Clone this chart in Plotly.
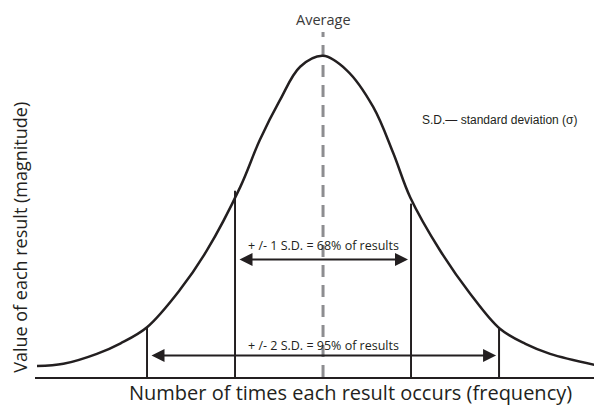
import plotly.graph_objects as go

# Bell curve (x in standard deviations from the mean, y relative frequency, peak = 1)
curve_x = [-3.25, -2.95, -2.57, -2.30, -2.00, -1.63, -1.32, -0.94, -0.72, -0.49, -0.26, 0.0,
           0.27, 0.57, 0.80, 0.99, 1.33, 1.67, 2.01, 2.30, 2.58, 3.15]
curve_y = [0.034, 0.041, 0.072, 0.105, 0.155, 0.270, 0.394, 0.592, 0.737, 0.862, 0.966, 1.0,
           0.955, 0.841, 0.696, 0.560, 0.394, 0.260, 0.150, 0.103, 0.072, 0.034]

# Vertical markers at +/- 1 and 2 standard deviations, with the curve height where they stop
sd_pos = [-2, -1, 1, 2]
sd_top = [0.154, 0.58, 0.54, 0.151]

# Average line
mean_x = 0
mean_top = 1.074

# Range arrows: (half width in S.D., height, label)
arrow_sd = [1, 2]
arrow_y = [0.366, 0.067]
arrow_labels = ["+ /- 1 S.D. = 68% of results", "+ /- 2 S.D. = 95% of results"]
label_y = [0.41, 0.098]

INK = "#231f20"
FONT = "Open Sans"

fig = go.Figure()

# dashed average line
fig.add_trace(go.Scatter(x=[mean_x, mean_x], y=[0, mean_top], mode="lines",
                         line=dict(color="#8d8d90", width=3, dash="12px,8px"),
                         hoverinfo="skip"))

# S.D. vertical lines
for xv, top in zip(sd_pos, sd_top):
    fig.add_trace(go.Scatter(x=[xv, xv], y=[0, top], mode="lines",
                             line=dict(color=INK, width=2), hoverinfo="skip"))

# bell curve
fig.add_trace(go.Scatter(x=curve_x, y=curve_y, mode="lines",
                         line=dict(color=INK, width=2.5, shape="spline", smoothing=1.0),
                         hoverinfo="skip"))

annotations = []
for half, ay, lab, ly in zip(arrow_sd, arrow_y, arrow_labels, label_y):
    annotations.append(dict(x=half, y=ay, ax=-half, ay=ay, xref="x", yref="y",
                            axref="x", ayref="y", text="", showarrow=True,
                            arrowhead=2, arrowside="end+start", arrowsize=1.3,
                            arrowwidth=2, arrowcolor=INK, standoff=3, startstandoff=3))
    annotations.append(dict(x=0, y=ly, xref="x", yref="y", text=lab, showarrow=False,
                            font=dict(family=FONT, size=12.5, color=INK),
                            xanchor="center", yanchor="middle"))

annotations.append(dict(x=mean_x, y=0.968, xref="x", yref="paper", text="Average",
                        showarrow=False, font=dict(family=FONT, size=14.5, color="#3a3a3a"),
                        xanchor="center", yanchor="middle"))
annotations.append(dict(x=0.679, y=0.696, xref="paper", yref="paper",
                        text="S.D.— standard deviation (σ)", showarrow=False,
                        font=dict(family="Liberation Sans", size=12, color=INK),
                        xanchor="left", yanchor="middle"))
annotations.append(dict(x=0.556, y=-0.043, xref="paper", yref="paper",
                        text="Number of times each result occurs (frequency)", showarrow=False,
                        font=dict(family=FONT, size=20, color=INK),
                        xanchor="center", yanchor="middle"))
annotations.append(dict(x=-0.027, y=0.379, xref="paper", yref="paper",
                        text="Value of each result (magnitude)", showarrow=False, textangle=-90,
                        font=dict(family=FONT, size=18, color=INK),
                        xanchor="center", yanchor="middle"))

# the page places the figure 8px in from the top-left corner
fig.update_layout(
    width=594, height=397,
    margin=dict(l=27, r=0, t=0, b=28),
    paper_bgcolor="white", plot_bgcolor="white",
    showlegend=False,
    annotations=annotations,
    xaxis=dict(range=[-3.273, 3.170], showgrid=False, zeroline=False, showticklabels=False,
               ticks="", showline=True, linecolor=INK, linewidth=2, fixedrange=True),
    yaxis=dict(range=[0, 1.149], showgrid=False, zeroline=False, showticklabels=False,
               ticks="", showline=False, fixedrange=True),
)

fig.write_html("out.html")
